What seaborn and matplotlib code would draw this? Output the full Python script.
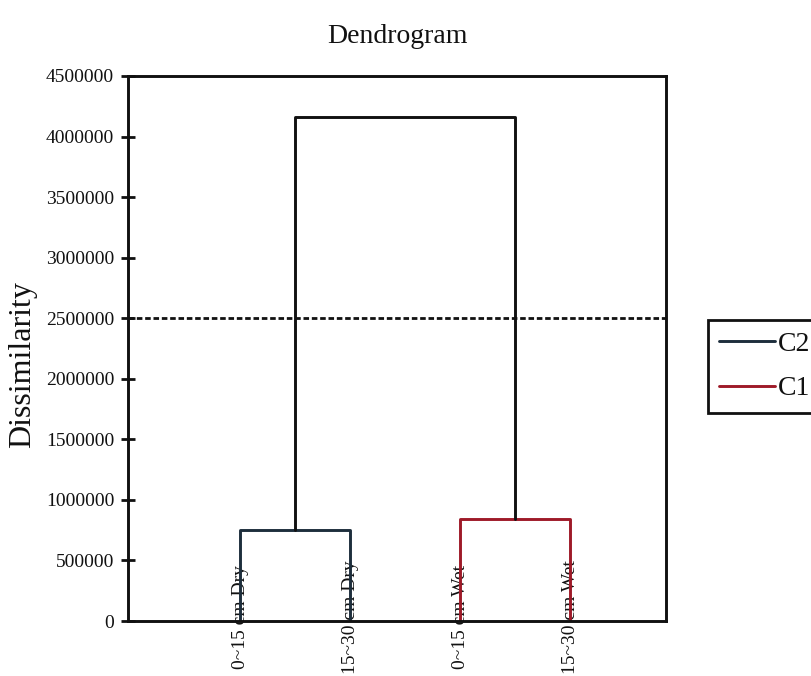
import pandas as pd
import seaborn as sns
import matplotlib.pyplot as plt
from matplotlib.lines import Line2D

# leaves, merge heights and cluster of each leaf pair
leaves = ["0~15 cm Dry", "15~30 cm Dry", "0~15 cm Wet", "15~30 cm Wet"]
pair_clusters = ["C2", "C1"]
pair_heights = [750000, 845000]
root_height = 4165000
cut_level = 2500000
yticks = [0, 500000, 1000000, 1500000, 2000000, 2500000, 3000000, 3500000, 4000000, 4500000]
cluster_colors = {"C2": "#1d2e3c", "C1": "#9e1a28"}

# build the U-shaped links of the dendrogram from the data
rows = []
mids = []
for i, (cl, h) in enumerate(zip(pair_clusters, pair_heights)):
    a, b = 2 * i + 1, 2 * i + 2
    for k, (x, y) in enumerate([(a, 0), (a, h), (b, h), (b, 0)]):
        rows.append({"x": x, "y": y, "cluster": cl, "order": k})
    mids.append((a + b) / 2)
links = pd.DataFrame(rows)
root = pd.DataFrame({"x": [mids[0], mids[0], mids[1], mids[1]],
                     "y": [pair_heights[0], root_height, root_height, pair_heights[1]],
                     "order": range(4)})

sns.set_theme(style="white")
plt.rcParams["font.family"] = ["Liberation Serif", "DejaVu Serif"]

fig = plt.figure(figsize=(8.11, 6.76), dpi=100)
ax = fig.add_axes([128 / 811, 1 - 621 / 676, (666 - 128) / 811, (621 - 76) / 676])

sns.lineplot(data=links, x="x", y="y", hue="cluster", units="cluster", estimator=None,
             sort=False, hue_order=["C2", "C1"], palette=cluster_colors, lw=2.1, ax=ax, legend=False)
sns.lineplot(data=root, x="x", y="y", sort=False, estimator=None, color="#111111", lw=2.1, ax=ax)
ax.axhline(cut_level, color="#111111", lw=2, ls=(0, (2, 1)))

ax.set_xlim(-0.02, 4.87)
ax.set_ylim(0, 4500000)
ax.set_yticks(yticks)
ax.ticklabel_format(style="plain", axis="y", useOffset=False)
ax.tick_params(axis="y", direction="inout", length=10, width=2, color="#111111",
               labelsize=14, pad=5, left=True, labelcolor="#111111")
ax.set_xticks(range(1, len(leaves) + 1), leaves)
ax.tick_params(axis="x", length=0, labelsize=14, pad=-3, labelrotation=90, labelcolor="#111111")
for lab in ax.get_xticklabels():
    lab.set_verticalalignment("center")

for s in ax.spines.values():
    s.set_color("#111111")
    s.set_linewidth(2.1)

ax.set_xlabel("")
ax.set_ylabel("Dissimilarity", fontsize=23, color="#111111")
ax.yaxis.set_label_coords(-0.169, 0.47)
ax.set_title("Dendrogram", fontsize=20, pad=24, color="#111111")

handles = [Line2D([], [], color=cluster_colors[c], lw=2.1) for c in ["C2", "C1"]]
leg = ax.legend(handles, ["C2", "C1"], loc="upper left", bbox_to_anchor=(708 / 811, 1 - 320 / 676),
                bbox_transform=fig.transFigure, fontsize=20, frameon=True, fancybox=False,
                framealpha=1, handlelength=2.0, handletextpad=0.1, borderpad=0.4,
                labelspacing=0.7, borderaxespad=0, labelcolor="#111111")
leg.get_frame().set_edgecolor("#111111")
leg.get_frame().set_linewidth(2)

fig.savefig("out.png", dpi=100)
